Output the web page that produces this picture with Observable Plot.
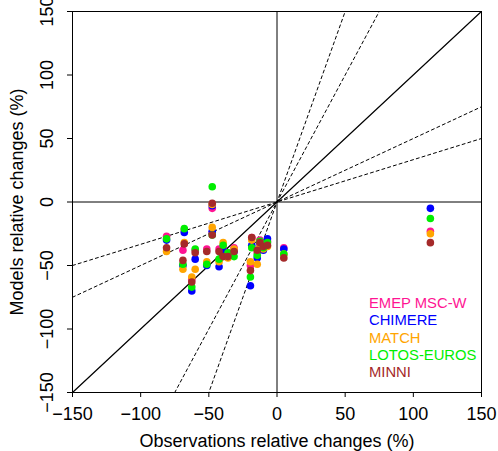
<!DOCTYPE html>
<html>
<head>
<meta charset="utf-8">
<script src="https://cdn.jsdelivr.net/npm/d3@7"></script>
<script src="https://cdn.jsdelivr.net/npm/@observablehq/plot@0.6"></script>
<style>
  html, body { margin: 0; padding: 0; background: white; }
  #wrap { position: relative; width: 498px; height: 451px; }
  #legend { position: absolute; left: 369px; top: 295px; font-family: "Liberation Sans", Arial, sans-serif; font-size: 14.8px; line-height: 17.3px; }
</style>
</head>
<body>
<div id="wrap"><div id="chart"></div><div id="legend"></div></div>
<script>
const models = ["EMEP MSC-W", "CHIMERE", "MATCH", "LOTOS-EUROS", "MINNI"];
const colors = ["#FF1493", "#0000FF", "#FFA500", "#00EE00", "#A52A2A"];

// observed relative changes (%) per station
const obs     = [-81, -68, -69, -60, -62.5, -51.5, -47.5, -47.5, -42.5, -39.5, -36, -31.5, -18.5, -19.5, -14.5, -12.5, -10, -7, 5, 112.5];
// modelled relative changes (%) per station
const emep    = [-27, -22, -38, -38, -61, -37, -5, -24, -37, -36, -40, -36, -28, -50, -40, -30, -36, -31, -36, -23];
const chimere = [-30, -24, -50, -45, -70, -50, -3, -23, -51, -38, -42, -39, -34, -66, -44, -33, -38, -29, -37, -5];
const match   = [-39, -32, -53, -53, -59, -47, -2, -20, -47, -32, -44, -37, -30, -47, -49, -35, -37, -35, -41, -25];
const lotos   = [-29, -21, -49, -37, -67, -49, 12, -26, -45, -34, -40, -43, -36, -59, -42, -31, -36, -32, -41, -13];
const minni   = [-36, -33, -46, -40, -63, -39, -1, -26, -39, -43, -43, -39, -28, -54, -38, -32, -35, -34, -44, -32];

const xTicks = [-150, -100, -50, 0, 50, 100, 150];
const yTicks = [-150, -100, -50, 0, 50, 100, 150];
const dashedSlopes = [1/3, 1/2, 2, 3];
const solidSlopes = [1];

const series = [emep, chimere, match, lotos, minni];
const points = series.flatMap((vals, m) => vals.map((v, i) => ({model: models[m], obs: obs[i], mod: v})));

const lim = [-150, 150];
const dashedLines = dashedSlopes.flatMap(k => lim.map(x => ({k, x, y: k * x})));
const solidLines = solidSlopes.flatMap(k => lim.map(x => ({k, x, y: k * x})));

const chart = Plot.plot({
  width: 498,
  height: 451,
  marginLeft: 72,
  marginRight: 17,
  marginTop: 11,
  marginBottom: 59,
  x: {domain: [-150, 150]},
  y: {domain: [-150, 150]},
  color: {domain: models, range: colors},
  style: {fontFamily: "'Liberation Sans', Arial, sans-serif", fontSize: "18px", background: "white", color: "black", overflow: "visible"},
  marks: [
    Plot.ruleX([0], {stroke: "black"}),
    Plot.ruleY([0], {stroke: "black"}),
    Plot.line(dashedLines, {x: "x", y: "y", z: "k", stroke: "black", strokeWidth: 1, strokeDasharray: "3,3", clip: true}),
    Plot.line(solidLines, {x: "x", y: "y", z: "k", stroke: "black", strokeWidth: 1.3, clip: true}),
    Plot.dot(points, {x: "obs", y: "mod", fill: "model", r: 3.8}),
    Plot.frame({stroke: "black"}),
    Plot.axisX({ticks: xTicks, tickSize: 5, tickPadding: 10, fontSize: 18, label: "Observations relative changes (%)", labelAnchor: "center", labelArrow: "none", labelOffset: 54}),
    Plot.axisY({ticks: yTicks, tickSize: 5, tickPadding: 15, fontSize: 18, tickRotate: -90, label: "Models relative changes (%)", labelAnchor: "center", labelArrow: "none", labelOffset: 62})
  ]
});
document.getElementById("chart").appendChild(chart);

const legend = document.getElementById("legend");
models.forEach((m, i) => {
  const d = document.createElement("div");
  d.textContent = m;
  d.style.color = colors[i];
  legend.appendChild(d);
});
</script>
</body>
</html>
